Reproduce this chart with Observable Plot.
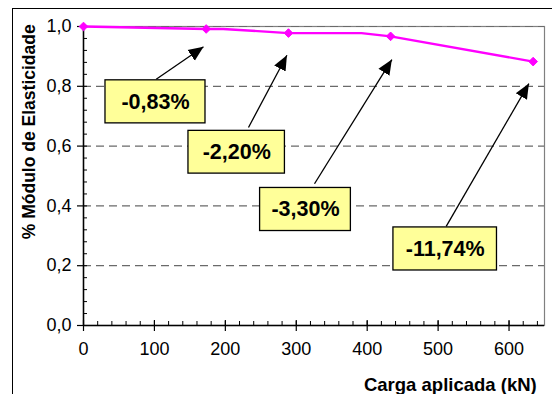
<!DOCTYPE html>
<html>
<head>
<meta charset="utf-8">
<script src="https://cdn.jsdelivr.net/npm/d3@7"></script>
<script src="https://cdn.jsdelivr.net/npm/@observablehq/plot@0.6"></script>
<style>
  html, body { margin: 0; padding: 0; background: #fff; overflow: hidden; }
  #wrap { position: relative; width: 552px; height: 394px; overflow: hidden; }
  #border { position: absolute; left: 12px; top: 8px; width: 700px; height: 600px; border: 1px solid #000; box-sizing: border-box; pointer-events: none; }
  #chart { position: absolute; left: 0; top: 0; }
</style>
</head>
<body>
<div id="wrap"><div id="chart"></div><div id="border"></div></div>
<script>
// Data
const loadMarked = [0, 173, 289, 433, 634];              // kN, marked points
const modMarked  = [1.0, 0.9917, 0.978, 0.967, 0.8826];  // relative modulus
const loadLine   = [0, 173, 197, 289, 392, 433, 634];    // line vertices
const modLine    = [1.0, 0.9917, 0.9917, 0.978, 0.978, 0.967, 0.8826];

const annLabels = ["-0,83%", "-2,20%", "-3,30%", "-11,74%"];
// box extents (data units)
const boxX1 = [31, 148, 249, 437];
const boxX2 = [172, 284, 377, 583];
const boxY1 = [0.676, 0.508, 0.316, 0.184];
const boxY2 = [0.820, 0.651, 0.460, 0.328];
// arrows: start (on box) -> tip
const arrX1 = [102.5, 232.6, 325.7, 511.4];
const arrY1 = [0.8236, 0.662, 0.474, 0.3314];
const arrX2 = [169.2, 286.8, 434.8, 628];
const arrY2 = [0.932, 0.904, 0.8895, 0.809];

const xMajor = [0, 100, 200, 300, 400, 500, 600];
const xMinor = d3.range(0, 641, 20);
const yMajor = [0, 0.2, 0.4, 0.6, 0.8, 1.0];
const yMinor = d3.range(0, 26).map(i => +(i * 0.04).toFixed(2));
const gridY  = [0.2, 0.4, 0.6, 0.8, 1.0];

const yLabel = "% Módulo de Elasticidade";
const xLabel = "Carga aplicada (kN)";
// label anchor positions (data units)
const yLabelPos = {x: -76, y: 0.648};
const xLabelPos = {x: 639, y: -0.2};

const marked = loadMarked.map((x, i) => ({x, y: modMarked[i]}));
const line = loadLine.map((x, i) => ({x, y: modLine[i]}));
const anns = annLabels.map((t, i) => ({
  t, x1: boxX1[i], x2: boxX2[i], y1: boxY1[i], y2: boxY2[i],
  ax1: arrX1[i], ay1: arrY1[i], ax2: arrX2[i], ay2: arrY2[i]
}));

const fmt = d => d3.format(".1f")(d).replace(".", ",");

function filledArrow(color, context) {
  const doc = (context && context.document) || document;
  const m = doc.createElementNS("http://www.w3.org/2000/svg", "marker");
  m.setAttribute("viewBox", "-10 -5 10 10");
  m.setAttribute("markerUnits", "userSpaceOnUse");
  m.setAttribute("markerWidth", "15");
  m.setAttribute("markerHeight", "15");
  m.setAttribute("refX", "0");
  m.setAttribute("refY", "0");
  m.setAttribute("orient", "auto");
  const p = doc.createElementNS("http://www.w3.org/2000/svg", "path");
  p.setAttribute("d", "M-10,-4.3L0,0L-10,4.3Z");
  p.setAttribute("fill", "#000");
  p.setAttribute("stroke", "none");
  m.appendChild(p);
  return m;
}

const font = "Liberation Sans, Arial, sans-serif";

const chart = Plot.plot({
  width: 552,
  height: 394,
  marginLeft: 83,
  marginRight: 8,
  marginTop: 26,
  marginBottom: 69,
  style: {fontFamily: font, background: "transparent", overflow: "visible"},
  x: {domain: [0, 650]},
  y: {domain: [0, 1.0]},
  marks: [
    Plot.frame({stroke: "#808080", strokeWidth: 1.2}),
    Plot.ruleY(gridY, {stroke: "#6a6a6a", strokeDasharray: "8,5", strokeWidth: 1.2}),
    Plot.axisX({ticks: xMajor, tickSize: 6, tickFormat: d => String(d), fontSize: 18, tickPadding: 11, label: null, strokeWidth: 1.2}),
    Plot.axisX({ticks: xMinor, tickSize: -4, text: null, label: null}),
    Plot.axisX({ticks: xMajor, tickSize: -5, text: null, label: null, strokeWidth: 1.2}),
    Plot.axisY({ticks: yMajor, tickSize: 6, tickFormat: fmt, fontSize: 18, tickPadding: 6, label: null, strokeWidth: 1.2}),
    Plot.axisY({ticks: yMinor, tickSize: -4, text: null, label: null}),
    Plot.ruleX([0], {stroke: "#000", strokeWidth: 1.5}),
    Plot.ruleY([0], {stroke: "#000", strokeWidth: 1.5}),
    Plot.link(anns, {x1: "ax1", y1: "ay1", x2: "ax2", y2: "ay2", stroke: "#000", strokeWidth: 1.3, markerEnd: filledArrow}),
    Plot.rect(anns, {x1: "x1", x2: "x2", y1: "y1", y2: "y2", fill: "#FFFF99", stroke: "#000", strokeWidth: 1.3}),
    Plot.text(anns, {x: d => (d.x1 + d.x2) / 2, y: d => (d.y1 + d.y2) / 2, text: "t", fontSize: 21.5, fontWeight: "bold", fill: "#000"}),
    Plot.line(line, {x: "x", y: "y", stroke: "#FF00FF", strokeWidth: 2.4}),
    Plot.dot(marked, {x: "x", y: "y", symbol: "diamond2", r: 3.9, fill: "#FF00FF", stroke: "#FF00FF", strokeWidth: 1}),
    Plot.text([yLabelPos], {x: "x", y: "y", text: () => yLabel, rotate: -90, fontSize: 17.5, fontWeight: "bold", fill: "#000", clip: false}),
    Plot.text([xLabelPos], {x: "x", y: "y", text: () => xLabel, textAnchor: "end", fontSize: 18.5, fontWeight: "bold", fill: "#000", clip: false})
  ]
});
document.getElementById("chart").appendChild(chart);
</script>
</body>
</html>
